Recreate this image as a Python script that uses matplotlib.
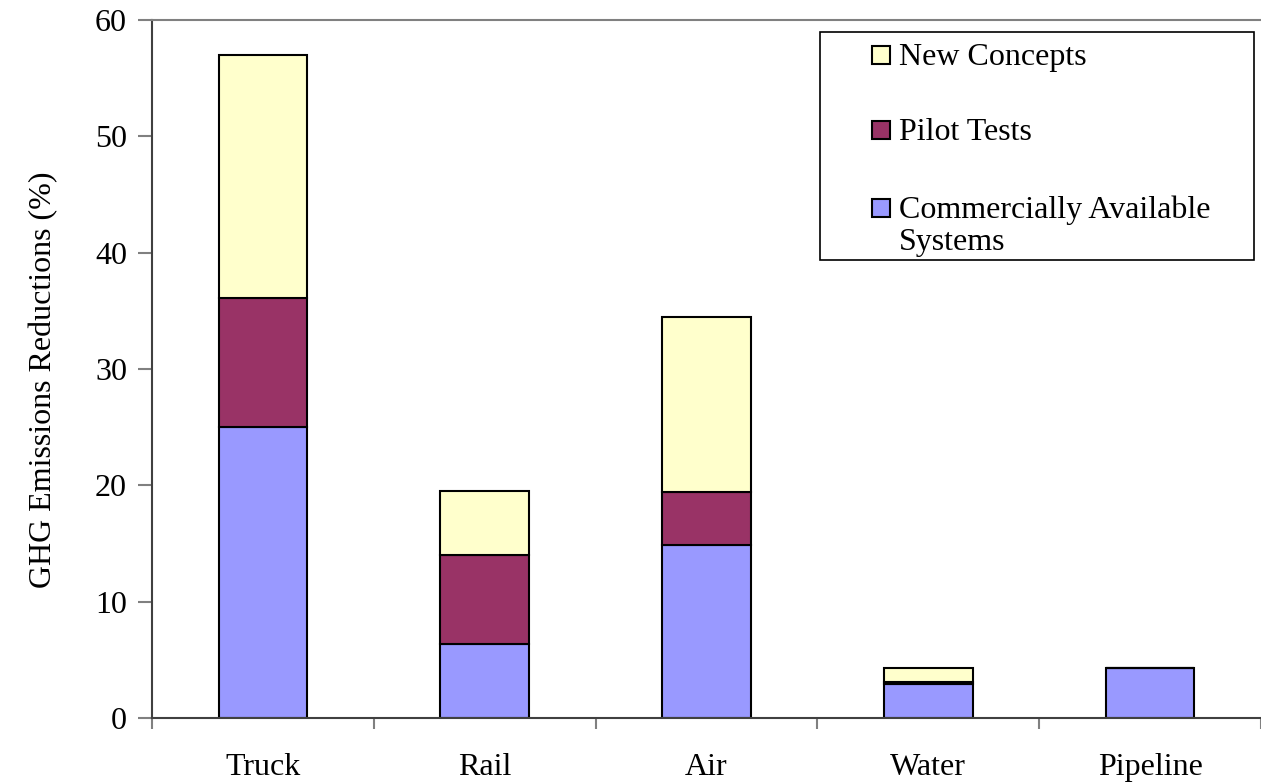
import numpy as np
import matplotlib
matplotlib.use('Agg')
import matplotlib.pyplot as plt
from matplotlib.patches import Rectangle

# data
modes = ['Truck', 'Rail', 'Air', 'Water', 'Pipeline']
commercial = [25.0, 6.4, 14.9, 2.9, 4.3]
pilot = [11.1, 7.6, 4.5, 0.2, 0.0]
new_concepts = [20.9, 5.5, 15.1, 1.2, 0.0]

series_names = ['New Concepts', 'Pilot Tests', 'Commercially Available\nSystems']
c_blue = '#9999FF'
c_maroon = '#993366'
c_yellow = '#FFFFCC'

plt.rcParams['font.family'] = ['Liberation Serif', 'DejaVu Serif']
fs = 23

fig = plt.figure(figsize=(12.61, 7.84), dpi=100)
ax = fig.add_axes([152/1261, 66/784, 1109/1261, 698/784])

x = np.arange(len(modes))
w = 0.4
bot1 = np.array(commercial)
bot2 = bot1 + np.array(pilot)

ax.bar(x, commercial, w, color=c_blue, edgecolor='black', linewidth=1.5)
ax.bar(x, pilot, w, bottom=bot1, color=c_maroon, edgecolor='black', linewidth=1.5)
ax.bar(x, new_concepts, w, bottom=bot2, color=c_yellow, edgecolor='black', linewidth=1.5)

ax.set_ylim(0, 60)
ax.set_xlim(-0.5, 1109/223 - 0.5)
ax.set_yticks(np.arange(0, 61, 10))
ax.tick_params(axis='y', labelsize=fs, length=10, width=1.5, color='#808080', pad=8)

ax.set_xticks(x)
ax.set_xticklabels(modes)
ax.set_xticks(np.arange(-0.5, 5, 1), minor=True)
ax.tick_params(axis='x', which='major', length=0, labelsize=fs, pad=25)
ax.tick_params(axis='x', which='minor', length=8, width=1.5, color='#808080')

ax.spines['right'].set_visible(False)
ax.spines['top'].set_color('#808080')
ax.spines['top'].set_linewidth(1.5)
ax.spines['left'].set_color('#404040')
ax.spines['left'].set_linewidth(1.5)
ax.spines['bottom'].set_color('#404040')
ax.spines['bottom'].set_linewidth(1.5)

ax.set_ylabel('GHG Emissions Reductions (%)', fontsize=fs)
ax.yaxis.set_label_coords(-0.085, 0.485)

# legend box, drawn by hand so the swatch sits on the first text line
fig.patches.append(Rectangle((820/1261, 524/784), 434/1261, 228/784,
                             transform=fig.transFigure, facecolor='white',
                             edgecolor='black', linewidth=1.2, zorder=3))
leg_colors = [c_yellow, c_maroon, c_blue]
leg_base = [65, 140, 218]   # baseline of first line, px from top
for name, col, yb in zip(series_names, leg_colors, leg_base):
    fig.patches.append(Rectangle((872/1261, (784 - yb + 1)/784), 18/1261, 18/784,
                                 transform=fig.transFigure, facecolor=col,
                                 edgecolor='black', linewidth=1.5, zorder=4))
    for i, line in enumerate(name.split('\n')):
        fig.text(899/1261, (784 - yb - 32*i)/784, line, fontsize=fs,
                 va='baseline', ha='left', zorder=5)

fig.savefig('out.png', dpi=100)
